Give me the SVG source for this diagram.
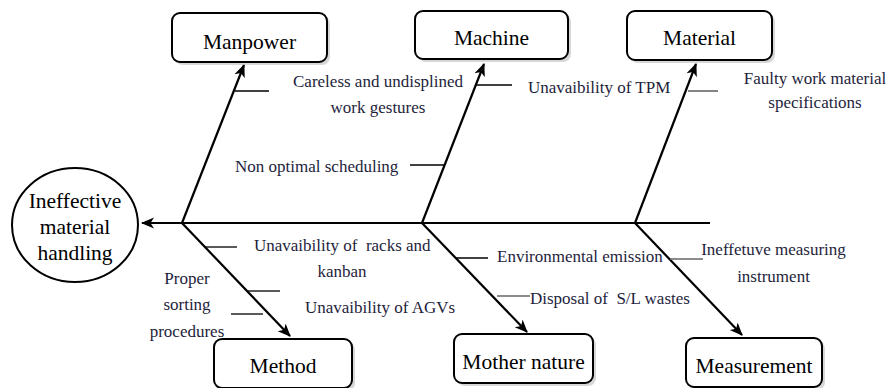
<svg xmlns="http://www.w3.org/2000/svg" width="888" height="388" viewBox="0 0 888 388">
<style>
.box{fill:#fff;stroke:#000;stroke-width:2}
.shadow{fill:#bdbdbd;opacity:0.6}
.big{font-size:21.5px;fill:#000;text-anchor:middle}
.lbl{font-size:17px;fill:#1e1e3c}
.mid{text-anchor:middle}
.bone{stroke:#000;stroke-width:2.2;fill:none}
.tick{stroke:#000;stroke-width:1.3}
.gtick{stroke:#666;stroke-width:1.6}
</style>
<defs>
<marker id="ah" markerWidth="14" markerHeight="12" refX="12" refY="6" orient="auto" markerUnits="userSpaceOnUse">
<path d="M0,0.5 L13,6 L0,11.5 L3.5,6 z" fill="#000"/>
</marker>
</defs>
<rect width="888" height="388" fill="#fff"/>

<g id="connectors">
<line class="bone" x1="710" y1="223" x2="142" y2="223" stroke-width="2.6" marker-end="url(#ah)"/>
<line class="bone" x1="182" y1="223" x2="244" y2="65" marker-end="url(#ah)"/>
<line class="bone" x1="422" y1="223" x2="484" y2="64" marker-end="url(#ah)"/>
<line class="bone" x1="635" y1="223" x2="696" y2="64" marker-end="url(#ah)"/>
<line class="bone" x1="182" y1="223" x2="290" y2="336" marker-end="url(#ah)"/>
<line class="bone" x1="422" y1="223" x2="527" y2="332" marker-end="url(#ah)"/>
<line class="bone" x1="635" y1="223" x2="742" y2="335" marker-end="url(#ah)"/>
</g>

<g font-family="Liberation Serif, Times New Roman, Times, serif">
<g id="effect">
<ellipse cx="75" cy="225" rx="63" ry="57" fill="#fff" stroke="#000" stroke-width="2"/>
<text class="big" x="75" y="208">Ineffective</text>
<text class="big" x="75" y="234">material</text>
<text class="big" x="75" y="260">handling</text>
</g>

<g id="manpower">
<rect class="shadow" x="175" y="16" width="155" height="49" rx="8"/>
<rect class="box" x="172" y="13" width="155" height="49" rx="8"/>
<text class="big" x="249.5" y="49">Manpower</text>
</g>
<g id="machine">
<rect class="shadow" x="418" y="14" width="153" height="48" rx="8"/>
<rect class="box" x="415" y="11" width="153" height="48" rx="8"/>
<text class="big" x="491.5" y="45">Machine</text>
</g>
<g id="material">
<rect class="shadow" x="630" y="14" width="145" height="49" rx="8"/>
<rect class="box" x="627" y="11" width="145" height="49" rx="8"/>
<text class="big" x="699.5" y="45">Material</text>
</g>
<g id="method">
<rect class="shadow" x="217" y="342" width="138" height="49" rx="8"/>
<rect class="box" x="214" y="339" width="138" height="49" rx="8"/>
<text class="big" x="283" y="373">Method</text>
</g>
<g id="mother-nature">
<rect class="shadow" x="457" y="337" width="139" height="49" rx="8"/>
<rect class="box" x="454" y="334" width="139" height="49" rx="8"/>
<text class="big" x="523.5" y="369">Mother nature</text>
</g>
<g id="measurement">
<rect class="shadow" x="689" y="341" width="136" height="49" rx="8"/>
<rect class="box" x="686" y="338" width="136" height="49" rx="8"/>
<text class="big" x="754" y="373">Measurement</text>
</g>

<g id="causes">
<line class="tick" x1="235" y1="91" x2="269" y2="91"/>
<text class="lbl mid" x="378" y="87">Careless and undisplined</text>
<text class="lbl mid" x="378" y="113">work gestures</text>

<line class="tick" x1="410" y1="165" x2="445" y2="165"/>
<text class="lbl" x="235" y="172">Non optimal scheduling</text>

<line class="tick" x1="475" y1="85" x2="512" y2="85"/>
<text class="lbl" x="528" y="93">Unavaibility of TPM</text>

<line class="gtick" x1="688" y1="91" x2="718" y2="91"/>
<text class="lbl mid" x="815" y="84">Faulty work material</text>
<text class="lbl mid" x="815" y="108">specifications</text>

<line class="tick" x1="205" y1="247" x2="237" y2="247"/>
<text class="lbl" x="254" y="251" xml:space="preserve">Unavaibility of  racks and</text>
<text class="lbl mid" x="342" y="277">kanban</text>

<line class="tick" x1="248" y1="291" x2="280" y2="291"/>
<line class="tick" x1="231" y1="314" x2="263" y2="314"/>
<text class="lbl" x="305" y="313">Unavaibility of AGVs</text>
<text class="lbl mid" x="187" y="284">Proper</text>
<text class="lbl mid" x="187" y="310">sorting</text>
<text class="lbl mid" x="187" y="337">procedures</text>

<line class="tick" x1="455" y1="258" x2="488" y2="258"/>
<text class="lbl" x="497" y="262">Environmental emission</text>

<line class="gtick" x1="497" y1="296" x2="530" y2="296"/>
<text class="lbl" x="530" y="304" xml:space="preserve">Disposal of  S/L wastes</text>

<line class="gtick" x1="670" y1="259" x2="703" y2="259"/>
<text class="lbl mid" x="773.5" y="255">Ineffetuve measuring</text>
<text class="lbl mid" x="773.5" y="282">instrument</text>
</g>
</g>
</svg>
